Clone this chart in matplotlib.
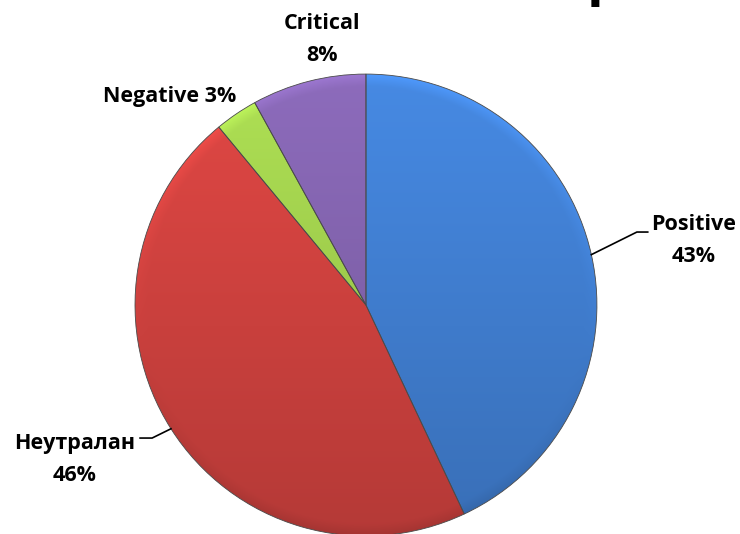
import numpy as np
import matplotlib.pyplot as plt
from matplotlib.colors import to_rgb

plt.rcParams['font.family'] = ['Open Sans', 'DejaVu Sans']

# данные
labels = ['Positive', 'Неутралан', 'Negative', 'Critical']
values = [43, 46, 3, 8]
colors = ['#3F7BCB', '#C9403D', '#9CC94B', '#7E60A8']

fig = plt.figure(figsize=(7.4, 5.34), dpi=100)
ax = fig.add_axes([0.1824, -0.0037, 0.6243, 0.865])
ax.set_xlim(-1, 1)
ax.set_ylim(-1, 1)
ax.set_aspect('equal')
ax.axis('off')

wedges, _ = ax.pie(values, colors=colors, startangle=90, counterclock=False,
                   radius=1, wedgeprops=dict(edgecolor='#4a4a4a', linewidth=0.6))

# градиент + светлый кант по краю (имитация объёма)
n = 300
gx, gy = np.meshgrid(np.linspace(-1, 1, n), np.linspace(1, -1, n))
rr = np.hypot(gx, gy)
shade = 1.12 - 0.22 * (1 - gy) / 2
rim = np.clip((rr - 0.95) / 0.05, 0, 1)
shade = shade + 0.10 * rim * (gy + 0.2)
for w, c in zip(wedges, colors):
    rgb = np.array(to_rgb(c))
    img = np.clip(rgb[None, None, :] * shade[:, :, None], 0, 1)
    w.set_facecolor('none')
    im = ax.imshow(img, extent=(-1, 1, -1, 1), zorder=w.get_zorder() - 0.1,
                   interpolation='bilinear')
    im.set_clip_path(w)

ax.set_xlim(-1, 1)
ax.set_ylim(-1, 1)

# подписи
fs = 15.5
ls = 1.7
def mid_point(w, r=1.0):
    a = np.deg2rad((w.theta1 + w.theta2) / 2)
    return r * np.cos(a), r * np.sin(a)

# Positive
px, py = mid_point(wedges[0])
ax.plot([px, 1.173, 1.22], [py, 0.316, 0.316], color='black', lw=1.2, clip_on=False)
ax.text(1.42, 0.28, f'{labels[0]}\n{values[0]}%', ha='center', va='center',
        fontsize=fs, fontweight='bold', linespacing=ls)

# Неутралан
nx, ny = mid_point(wedges[1])
ax.plot([nx, -0.926, -0.978], [ny, -0.576, -0.576], color='black', lw=1.2, clip_on=False)
ax.text(-1.26, -0.67, f'{labels[1]}\n{values[1]}%', ha='center', va='center',
        fontsize=fs, fontweight='bold', linespacing=ls)

# Negative
ax.text(-0.848, 0.905, f'{labels[2]} {values[2]}%', ha='center', va='center',
        fontsize=fs, fontweight='bold')

# Critical
ax.text(-0.19, 1.15, f'{labels[3]}\n{values[3]}%', ha='center', va='center',
        fontsize=fs, fontweight='bold', linespacing=ls)

# обрезанный заголовок сверху
fig.text(0.793, 1.012, 'р', ha='left', va='baseline', fontsize=40, fontweight='bold')

fig.savefig('out.png', dpi=100)
